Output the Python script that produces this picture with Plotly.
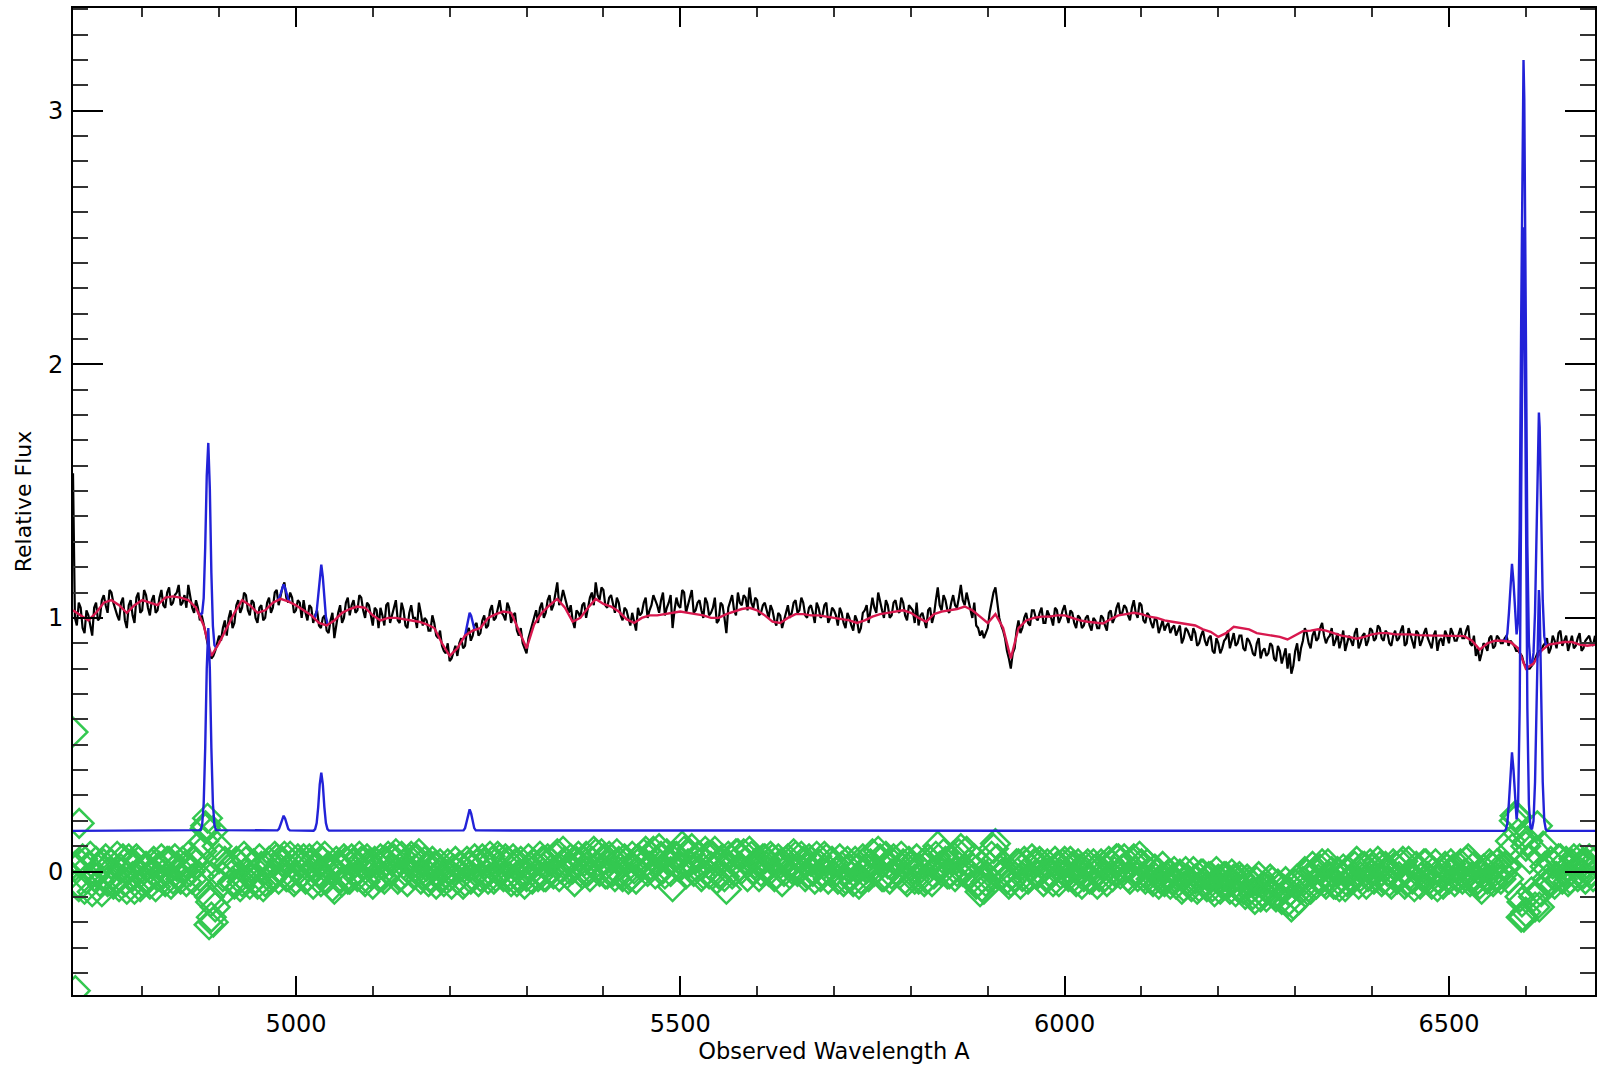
import numpy as np
import plotly.graph_objects as go

# ---------------- data ----------------
WL_START = 4710.0      # first wavelength sample (Angstrom)
SPEC_STEP = 5.0        # sampling of the main samples
MID_OFFSET = 2.5       # intermediate samples sit half-way between the main ones
MODEL_STEP = 10.0      # sampling of stellar model

# observed spectrum (black), main samples 4710..6690 every 5 A
black_flux = [
    1.57, 0.97, 1.04, 0.94, 1.01, 0.93, 1.06, 1.00, 1.09, 1.02, 1.10, 1.03, 0.99, 1.08, 0.96, 1.07, 0.98, 1.10, 1.03, 1.09,
    1.01, 1.09, 1.03, 1.11, 1.04, 1.12, 1.06, 1.10, 1.05, 1.09, 1.13, 1.04, 1.07, 0.99, 0.98, 0.90, 0.84, 0.87, 0.93, 0.96,
    0.93, 1.03, 0.98, 1.07, 1.04, 1.09, 1.01, 1.06, 0.98, 1.05, 1.00, 1.08, 1.04, 1.11, 1.09, 1.14, 1.06, 1.08, 1.03, 1.06,
    1.07, 0.99, 1.04, 1.01, 0.97, 1.00, 0.95, 0.99, 0.92, 1.02, 0.98, 1.06, 1.01, 1.07, 1.03, 1.08, 1.00, 1.05, 0.97, 1.03,
    1.04, 0.97, 1.06, 1.01, 1.07, 0.98, 1.03, 0.96, 1.05, 1.00, 1.06, 0.97, 0.99, 0.95, 0.98, 0.92, 0.89, 0.86, 0.83, 0.87,
    0.85, 0.92, 0.89, 0.96, 0.93, 0.98, 0.94, 1.01, 0.97, 1.05, 1.00, 1.07, 1.01, 1.06, 0.98, 1.02, 0.93, 0.90, 0.86, 0.95,
    1.01, 0.98, 1.06, 1.02, 1.09, 1.05, 1.14, 1.07, 1.08, 1.02, 0.99, 1.03, 1.00, 1.06, 1.04, 1.10, 1.14, 1.07, 1.11, 1.04,
    1.09, 1.02, 1.06, 0.99, 1.03, 0.97, 0.99, 1.04, 1.02, 1.08, 1.03, 1.09, 1.05, 1.07, 1.01, 1.06, 0.96, 1.08, 1.04, 1.10,
    1.05, 1.11, 1.03, 1.07, 1.00, 1.06, 1.02, 1.08, 0.99, 1.05, 0.94, 1.07, 1.03, 1.10, 1.05, 1.08, 1.12, 1.04, 1.07, 1.02,
    1.06, 1.00, 1.03, 0.97, 1.01, 0.99, 1.05, 1.02, 1.07, 1.03, 1.06, 1.00, 1.05, 0.98, 1.04, 1.01, 1.06, 1.00, 1.03, 0.97,
    1.02, 0.96, 1.00, 0.95, 0.99, 0.96, 1.03, 0.98, 1.08, 1.02, 1.06, 1.00, 1.05, 1.01, 1.07, 1.02, 1.06, 0.99, 1.04, 0.98,
    0.97, 1.02, 0.96, 1.04, 1.01, 1.12, 1.03, 1.07, 1.02, 1.09, 1.04, 1.13, 1.05, 1.07, 1.00, 0.97, 0.93, 0.92, 0.96, 1.06,
    1.12, 1.00, 0.95, 0.87, 0.80, 0.88, 0.99, 0.96, 1.02, 0.97, 1.03, 0.99, 1.04, 0.98, 1.01, 0.97, 1.03, 1.00, 1.05, 0.98,
    1.02, 0.96, 1.00, 0.97, 1.01, 0.95, 0.99, 0.96, 1.00, 0.95, 1.03, 1.00, 1.06, 1.02, 1.04, 0.99, 1.07, 1.00, 1.05, 0.98,
    1.01, 0.96, 0.99, 0.97, 0.95, 0.98, 0.96, 0.93, 0.97, 0.92, 0.95, 0.91, 0.94, 0.90, 0.95, 0.89, 0.93, 0.86, 0.90, 0.88,
    0.92, 0.88, 0.94, 0.90, 0.93, 0.87, 0.91, 0.86, 0.90, 0.84, 0.88, 0.86, 0.89, 0.83, 0.87, 0.85, 0.80, 0.78, 0.87, 0.83,
    0.91, 0.94, 0.88, 0.95, 0.92, 0.98, 0.90, 0.93, 0.89, 0.94, 0.91, 0.87, 0.93, 0.89, 0.96, 0.90, 0.94, 0.91, 0.95, 0.92,
    0.96, 0.91, 0.94, 0.89, 0.95, 0.92, 0.97, 0.90, 0.93, 0.88, 0.94, 0.91, 0.96, 0.90, 0.93, 0.87, 0.92, 0.95, 0.90, 0.94,
    0.91, 0.96, 0.92, 0.97, 0.89, 0.85, 0.83, 0.90, 0.87, 0.93, 0.89, 0.92, 0.90, 0.93, 0.91, 0.89, 0.87, 0.85, 0.81, 0.80,
    0.82, 0.86, 0.87, 0.90, 0.86, 0.93, 0.88, 0.95, 0.91, 0.87, 0.93, 0.89, 0.94, 0.88, 0.92, 0.90, 0.93,
]

# observed spectrum (black), intermediate samples 4712.5..6687.5 every 5 A
black_mid = [
    1.00, 1.06, 0.96, 1.03, 0.97, 1.04, 0.99, 1.07, 1.05, 1.11, 1.06, 1.01, 1.06, 0.99, 1.05, 1.01, 1.08, 1.02, 1.11, 1.04,
    1.07, 1.02, 1.08, 1.05, 1.10, 1.05, 1.09, 1.13, 1.06, 1.04, 1.08, 1.02, 1.04, 1.01, 0.94, 0.87, 0.85, 0.90, 0.91, 0.99,
    1.00, 0.96, 1.05, 1.02, 1.10, 1.03, 1.07, 1.00, 1.04, 0.99, 1.06, 1.02, 1.10, 1.05, 1.12, 1.08, 1.10, 1.02, 1.07, 1.00,
    1.02, 1.05, 0.98, 1.03, 0.96, 1.01, 0.94, 1.02, 0.97, 1.05, 1.00, 1.08, 1.05, 1.02, 1.09, 1.03, 1.06, 1.01, 1.04, 0.96,
    1.01, 1.05, 0.98, 1.04, 0.99, 1.06, 0.97, 1.02, 1.00, 0.96, 1.02, 1.00, 0.95, 1.01, 0.93, 0.95, 0.87, 0.90, 0.84, 0.89,
    0.90, 0.88, 0.95, 0.91, 0.97, 0.93, 0.99, 0.96, 1.03, 0.99, 1.04, 1.02, 0.99, 1.04, 1.01, 0.95, 0.96, 0.88, 0.92, 0.98,
    1.03, 1.04, 1.00, 1.07, 1.03, 1.10, 1.05, 1.11, 1.04, 1.05, 0.96, 1.02, 1.05, 1.00, 1.08, 1.05, 1.09, 1.12, 1.05, 1.08,
    1.05, 1.08, 1.01, 1.04, 1.00, 1.02, 0.95, 1.01, 1.06, 1.00, 1.05, 1.07, 1.02, 1.10, 1.04, 1.09, 1.03, 1.05, 1.11, 1.02,
    1.08, 1.02, 1.06, 1.03, 1.08, 1.01, 1.04, 0.98, 1.06, 1.00, 1.04, 1.09, 1.01, 1.06, 1.09, 1.03, 1.06, 1.08, 1.01, 1.05,
    1.03, 1.05, 0.99, 1.02, 0.96, 1.03, 1.00, 1.06, 1.02, 1.08, 1.01, 1.04, 1.02, 1.06, 1.00, 1.05, 0.98, 1.04, 1.01, 1.04,
    0.98, 1.02, 0.97, 1.01, 0.94, 1.02, 1.05, 1.03, 1.04, 1.10, 1.03, 1.07, 1.00, 1.06, 1.03, 1.08, 1.01, 1.05, 1.03, 1.06,
    1.01, 0.99, 1.03, 0.98, 1.07, 1.05, 1.09, 1.03, 1.06, 1.05, 1.08, 1.07, 1.10, 1.04, 1.06, 0.96, 0.95, 0.94, 1.02, 1.10,
    1.05, 0.97, 0.92, 0.84, 0.86, 0.95, 0.94, 1.00, 0.98, 1.03, 1.00, 1.02, 0.98, 1.03, 1.00, 1.04, 0.98, 1.03, 1.01, 1.03,
    0.98, 1.01, 0.96, 1.00, 0.97, 1.00, 0.96, 1.01, 0.97, 1.02, 0.98, 1.04, 1.01, 1.05, 1.01, 1.04, 1.02, 1.06, 0.99, 1.02,
    0.98, 1.00, 0.94, 0.99, 0.97, 0.94, 0.97, 0.95, 0.90, 0.96, 0.93, 0.96, 0.89, 0.93, 0.91, 0.92, 0.87, 0.92, 0.86, 0.91,
    0.95, 0.91, 0.89, 0.93, 0.88, 0.92, 0.89, 0.85, 0.92, 0.87, 0.85, 0.90, 0.84, 0.89, 0.82, 0.88, 0.86, 0.81, 0.90, 0.88,
    0.96, 0.90, 0.93, 0.91, 0.96, 0.93, 0.92, 0.96, 0.91, 0.88, 0.95, 0.90, 0.91, 0.94, 0.88, 0.93, 0.89, 0.96, 0.91, 0.97,
    0.92, 0.95, 0.90, 0.93, 0.91, 0.95, 0.89, 0.96, 0.91, 0.95, 0.89, 0.94, 0.92, 0.88, 0.95, 0.91, 0.89, 0.93, 0.96, 0.91,
    0.94, 0.92, 0.95, 0.90, 0.93, 0.88, 0.86, 0.89, 0.92, 0.88, 0.93, 0.90, 0.92, 0.89, 0.90, 0.87, 0.86, 0.82, 0.80, 0.81,
    0.84, 0.87, 0.89, 0.92, 0.88, 0.91, 0.94, 0.89, 0.93, 0.90, 0.88, 0.92, 0.87, 0.91, 0.93, 0.89,
]

# stellar model fit (red), 4710..6690 every 10 A
red_model = [
    1.03, 1.01, 0.99, 1.02, 1.06, 1.07, 1.05, 1.02, 1.05, 1.07,
    1.06, 1.05, 1.08, 1.085, 1.08, 1.07, 1.04, 0.97, 0.85, 0.90,
    0.96, 1.02, 1.07, 1.05, 1.02, 1.03, 1.06, 1.075, 1.065, 1.05,
    1.03, 1.01, 0.98, 0.97, 0.99, 1.02, 1.035, 1.045, 1.04, 1.01,
    0.99, 1.00, 1.00, 0.995, 0.99, 0.985, 0.975, 0.96, 0.90, 0.85,
    0.88, 0.93, 0.95, 0.96, 1.00, 1.015, 1.025, 1.02, 0.95, 0.88,
    0.975, 1.02, 1.05, 1.075, 1.04, 0.985, 1.00, 1.04, 1.075, 1.055,
    1.045, 1.025, 0.995, 0.98, 1.00, 1.01, 1.01, 1.015, 1.02, 1.025,
    1.02, 1.015, 1.01, 1.00, 1.00, 1.015, 1.025, 1.035, 1.04, 1.03,
    1.01, 0.985, 0.98, 1.00, 1.015, 1.015, 1.01, 1.01, 1.005, 1.00,
    0.995, 0.99, 0.98, 0.99, 1.005, 1.015, 1.02, 1.025, 1.03, 1.02,
    1.00, 0.985, 1.015, 1.025, 1.03, 1.035, 1.045, 1.03, 1.005, 0.98,
    1.015, 0.96, 0.84, 0.96, 0.99, 1.00, 1.005, 1.005, 1.01, 1.01,
    1.00, 0.99, 0.985, 0.98, 0.978, 0.995, 1.01, 1.015, 1.02, 1.015,
    1.005, 1.00, 0.99, 0.985, 0.98, 0.975, 0.97, 0.955, 0.945, 0.925,
    0.94, 0.965, 0.96, 0.955, 0.94, 0.935, 0.93, 0.925, 0.915, 0.93,
    0.948, 0.95, 0.955, 0.95, 0.94, 0.93, 0.925, 0.918, 0.925, 0.935,
    0.94, 0.94, 0.935, 0.935, 0.935, 0.932, 0.93, 0.93, 0.93, 0.93,
    0.93, 0.928, 0.91, 0.875, 0.90, 0.91, 0.91, 0.905, 0.88, 0.80,
    0.82, 0.87, 0.895, 0.90, 0.905, 0.905, 0.895, 0.89, 0.895,
]

# residuals (green diamonds), main samples 4710..6690 every 5 A
resid = [
    0.55, -0.05, 0.03, -0.07, 0.02, -0.08, 0.04, -0.04, 0.03, -0.04, 0.03, -0.03, -0.06, 0.05, -0.07, 0.03, -0.07, 0.04, -0.04, 0.02,
    -0.05, 0.04, -0.02, 0.05, -0.04, 0.04, -0.03, 0.02, -0.03, 0.02, 0.06, -0.03, 0.03, -0.02, 0.12, 0.21, -0.18, -0.14, 0.05, -0.02,
    -0.07, 0.02, -0.05, 0.03, -0.04, 0.04, -0.05, 0.03, -0.05, 0.02, -0.04, 0.04, -0.02, 0.05, 0.01, 0.06, -0.02, 0.03, -0.03, 0.03,
    0.05, -0.02, 0.03, 0.02, -0.01, 0.04, -0.03, 0.01, -0.07, 0.02, -0.04, 0.04, -0.03, 0.03, -0.02, 0.04, -0.04, 0.03, -0.05, 0.03,
    0.05, -0.03, 0.06, 0.01, 0.07, -0.02, 0.03, -0.04, 0.06, 0.01, 0.07, -0.01, 0.02, -0.02, 0.02, -0.01, -0.02, -0.01, -0.02, 0.01,
    -0.03, 0.02, -0.04, 0.02, -0.02, 0.03, -0.02, 0.03, -0.03, 0.04, -0.02, 0.05, -0.02, 0.04, -0.04, 0.03, -0.02, -0.01, -0.02, 0.02,
    0.03, -0.02, 0.04, -0.02, 0.04, -0.01, 0.07, 0.01, 0.04, 0.01, 0.01, 0.04, 0.00, 0.04, 0.00, 0.04, 0.07, 0.00, 0.05, -0.01,
    0.05, -0.02, 0.04, -0.02, 0.04, -0.02, 0.01, 0.05, 0.02, 0.08, 0.02, 0.08, 0.04, 0.06, -0.01, 0.04, -0.06, 0.06, 0.02, 0.08,
    0.03, 0.09, 0.02, 0.06, -0.01, 0.06, 0.02, 0.08, -0.01, 0.05, -0.07, 0.05, 0.00, 0.07, 0.01, 0.04, 0.08, 0.01, 0.04, 0.00,
    0.05, 0.00, 0.05, -0.01, 0.03, 0.00, 0.05, 0.01, 0.06, 0.01, 0.04, -0.01, 0.04, -0.03, 0.03, 0.00, 0.05, 0.00, 0.03, -0.03,
    0.02, -0.03, 0.01, -0.04, 0.01, -0.03, 0.04, -0.02, 0.07, 0.01, 0.05, -0.02, 0.03, -0.01, 0.04, -0.01, 0.03, -0.04, 0.02, -0.03,
    -0.03, 0.03, -0.03, 0.04, -0.01, 0.10, 0.00, 0.04, -0.01, 0.06, 0.00, 0.09, 0.01, 0.03, -0.03, -0.05, -0.08, -0.07, -0.02, 0.06,
    0.11, 0.01, -0.01, -0.03, -0.04, -0.02, 0.03, -0.02, 0.03, -0.02, 0.03, -0.01, 0.03, -0.02, 0.00, -0.04, 0.02, -0.01, 0.04, -0.02,
    0.02, -0.04, 0.01, -0.02, 0.03, -0.03, 0.01, -0.02, 0.02, -0.04, 0.03, 0.00, 0.05, 0.01, 0.02, -0.03, 0.05, -0.02, 0.03, -0.03,
    0.00, -0.04, -0.01, -0.03, -0.04, -0.01, -0.03, -0.05, -0.01, -0.06, -0.03, -0.06, -0.03, -0.06, -0.01, -0.06, -0.02, -0.08, -0.03, -0.05,
    -0.02, -0.07, -0.03, -0.06, -0.03, -0.09, -0.04, -0.09, -0.04, -0.10, -0.06, -0.07, -0.04, -0.10, -0.06, -0.07, -0.12, -0.14, -0.05, -0.11,
    -0.04, -0.01, -0.07, 0.00, -0.03, 0.03, -0.05, -0.02, -0.05, 0.00, -0.02, -0.06, 0.00, -0.03, 0.04, -0.02, 0.02, -0.02, 0.01, -0.02,
    0.02, -0.03, 0.00, -0.05, 0.02, -0.02, 0.04, -0.04, -0.01, -0.06, 0.01, -0.02, 0.03, -0.03, 0.00, -0.06, -0.01, 0.02, -0.03, 0.01,
    -0.02, 0.03, -0.01, 0.05, -0.02, -0.04, -0.05, 0.01, -0.03, 0.02, -0.02, 0.01, -0.01, 0.02, 0.12, 0.20, 0.15, -0.12, -0.16, 0.05,
    -0.10, 0.18, -0.08, 0.02, -0.04, 0.03, -0.02, 0.05, 0.00, -0.04, 0.03, -0.01, 0.05, -0.01, 0.03, 0.00, 0.04,
]

# residuals, intermediate samples 4712.5..6687.5 every 5 A
resid_mid = [
    0.02, -0.06, 0.05, -0.03, 0.06, -0.02, 0.01, -0.08, 0.05, 0.00, -0.05, 0.06, 0.01, -0.04, 0.05, -0.02, 0.05, -0.06, 0.01, -0.03,
    0.03, -0.06, 0.02, -0.01, 0.04, -0.05, 0.05, -0.01, 0.04, -0.04, 0.00, 0.04, -0.05, 0.08, 0.18, -0.10, -0.20, 0.10, -0.05, 0.04,
    0.03, -0.04, 0.04, -0.06, 0.06, -0.01, 0.02, -0.03, 0.05, -0.06, 0.02, -0.03, 0.06, -0.03, 0.04, -0.02, 0.06, -0.04, 0.05, -0.01,
    -0.03, 0.05, -0.05, 0.06, -0.04, 0.06, 0.02, -0.06, 0.04, -0.02, 0.05, -0.03, 0.05, 0.00, 0.06, -0.03, 0.05, -0.01, 0.04, -0.02,
    -0.02, 0.04, 0.00, 0.05, -0.03, 0.06, 0.00, 0.05, -0.01, 0.05, -0.03, 0.04, -0.04, 0.04, -0.05, 0.03, -0.04, 0.03, -0.05, 0.04,
    0.02, -0.05, 0.04, -0.03, 0.05, -0.04, 0.05, -0.01, 0.06, -0.03, 0.06, 0.00, 0.05, -0.02, 0.05, -0.04, 0.04, -0.05, 0.05, -0.03,
    -0.01, 0.06, -0.02, 0.05, 0.01, 0.06, -0.02, 0.08, -0.01, 0.05, -0.04, 0.06, -0.01, 0.06, -0.02, 0.08, 0.02, 0.07, -0.01, 0.06,
    0.00, 0.07, -0.01, 0.05, -0.03, 0.06, -0.03, 0.04, 0.07, 0.00, 0.06, -0.01, 0.09, 0.01, 0.07, 0.00, 0.06, 0.02, 0.10, -0.01,
    0.07, 0.00, 0.06, -0.02, 0.08, -0.01, 0.06, -0.03, 0.04, -0.02, 0.06, -0.01, 0.07, 0.02, 0.07, -0.02, 0.06, 0.03, -0.02, 0.05,
    0.02, 0.06, -0.02, 0.05, -0.04, 0.04, -0.01, 0.07, 0.00, 0.06, -0.02, 0.05, 0.00, 0.06, -0.02, 0.06, -0.03, 0.04, 0.00, 0.05,
    -0.04, 0.04, -0.02, 0.04, -0.05, 0.05, 0.01, 0.03, 0.00, 0.08, -0.02, 0.06, -0.03, 0.05, 0.00, 0.06, -0.03, 0.04, 0.01, 0.05,
    0.01, -0.04, 0.05, -0.04, 0.06, 0.02, 0.07, -0.01, 0.05, -0.02, 0.07, 0.00, 0.08, -0.01, 0.05, -0.04, -0.06, -0.04, 0.02, 0.09,
    0.05, -0.01, 0.00, -0.05, -0.01, 0.03, -0.05, 0.04, -0.03, 0.05, -0.01, 0.04, -0.04, 0.03, -0.01, 0.04, -0.04, 0.03, -0.01, 0.04,
    -0.02, 0.03, -0.05, 0.02, -0.03, 0.03, -0.05, 0.03, -0.02, 0.04, -0.02, 0.05, -0.01, 0.05, -0.02, 0.04, 0.00, 0.06, -0.02, 0.03,
    -0.03, 0.01, -0.05, 0.02, -0.02, -0.05, 0.00, -0.02, -0.07, 0.00, -0.04, 0.00, -0.07, -0.01, -0.05, -0.02, -0.06, 0.00, -0.07, -0.02,
    -0.05, -0.01, -0.08, -0.02, -0.07, -0.03, -0.07, -0.11, -0.02, -0.08, -0.10, -0.03, -0.09, -0.05, -0.11, -0.04, -0.08, -0.13, -0.03, -0.07,
    0.00, -0.06, 0.02, -0.05, 0.01, -0.04, 0.03, 0.00, -0.05, -0.06, 0.01, -0.04, -0.03, 0.02, -0.05, 0.02, -0.05, 0.03, -0.03, 0.04,
    -0.04, 0.02, -0.04, 0.03, -0.03, 0.03, -0.05, 0.04, -0.03, 0.02, -0.05, 0.03, -0.02, -0.05, 0.03, -0.03, -0.05, 0.01, 0.03, -0.04,
    0.02, -0.03, 0.04, -0.04, 0.02, -0.03, -0.07, -0.02, 0.03, -0.04, 0.03, -0.03, 0.02, -0.03, 0.09, 0.22, -0.10, -0.18, 0.12, -0.08,
    0.08, -0.14, 0.10, -0.03, 0.04, -0.05, 0.05, -0.03, 0.04, -0.03, 0.05, -0.02, 0.03, -0.03, 0.05, -0.02,
]

# a few extra residual outliers (edge and line centres)
extra_resid_wl = [4713, 4718, 4882, 4887, 4889, 4892, 6586, 6594, 6600, 6612]
extra_resid = [-0.47, 0.19, 0.17, -0.21, -0.12, 0.16, 0.22, -0.18, 0.10, -0.14]

# emission-line-only model (blue, offset baseline)
em_wl = [4710,
         4876, 4878, 4880, 4882, 4884, 4886, 4888, 4890, 4892, 4894, 4896,
         4976, 4978, 4980, 4982, 4984, 4986, 4988, 4990, 4992,
         5023, 5025, 5027, 5029, 5031, 5033, 5035, 5037, 5039, 5041, 5043,
         5218, 5220, 5222, 5224, 5226, 5228, 5230, 5232, 5234,
         6572, 6574, 6576, 6578, 6580, 6582, 6584, 6586, 6588, 6590, 6592, 6594, 6596, 6597, 6598,
         6600, 6602, 6604, 6606, 6608, 6610, 6612, 6614, 6616, 6617, 6618, 6620, 6622, 6624, 6626, 6628,
         6690]
em_flux = [0.16,
           0.163, 0.183, 0.268, 0.488, 0.80, 0.96, 0.80, 0.488, 0.268, 0.183, 0.163,
           0.162, 0.168, 0.185, 0.208, 0.22, 0.208, 0.185, 0.168, 0.162,
           0.161, 0.167, 0.191, 0.254, 0.344, 0.39, 0.344, 0.254, 0.191, 0.167, 0.161,
           0.162, 0.171, 0.195, 0.228, 0.245, 0.228, 0.195, 0.171, 0.162,
           0.16, 0.165, 0.191, 0.272, 0.40, 0.47, 0.40, 0.272, 0.205, 0.27, 0.643, 1.50, 2.39, 2.54, 2.39,
           1.50, 0.643, 0.265, 0.175, 0.166, 0.20, 0.353, 0.695, 1.05, 1.11, 1.05, 0.695, 0.353, 0.20, 0.166, 0.16,
           0.16]

# stellar + emission model (blue) around the lines; None separates segments
tot_wl = [4874, 4876, 4878, 4880, 4882, 4884, 4886, 4888, 4890, 4892, 4894, 4896, 4898, None,
          4976, 4978, 4980, 4982, 4984, 4986, 4988, 4990, 4992, None,
          5023, 5025, 5027, 5029, 5031, 5033, 5035, 5037, 5039, 5041, 5043, None,
          5218, 5220, 5222, 5224, 5226, 5228, 5230, 5232, 5234, None,
          6568, 6572, 6574, 6576, 6578, 6580, 6582, 6584, 6586, 6588, 6590, 6592, 6594, 6596, 6597, 6598,
          6600, 6602, 6604, 6606, 6608, 6610, 6612, 6614, 6616, 6617, 6618, 6620, 6622, 6624, 6626, 6628, 6632]
tot_flux = [1.02, 1.013, 1.018, 1.078, 1.278, 1.56, 1.69, 1.51, 1.178, 0.968, 0.893, 0.883, 0.89, None,
            1.07, 1.078, 1.095, 1.118, 1.132, 1.117, 1.093, 1.074, 1.065, None,
            1.006, 1.003, 1.026, 1.084, 1.169, 1.21, 1.161, 1.069, 1.004, 0.979, 0.973, None,
            0.917, 0.931, 0.96, 0.998, 1.02, 1.008, 0.98, 0.958, 0.952, None,
            0.91, 0.91, 0.914, 0.939, 1.019, 1.145, 1.213, 1.14, 1.007, 0.935, 0.99, 1.353, 2.19, 3.06, 3.20, 3.047,
            2.14, 1.283, 0.905, 0.82, 0.816, 0.862, 1.023, 1.377, 1.746, 1.81, 1.754, 1.405, 1.07, 0.927, 0.895, 0.893, 0.898]

x_ticks = [5000, 5500, 6000, 6500]
y_ticks = [0, 1, 2, 3]
x_title = "Observed Wavelength A"
y_title = "Relative Flux"

# ---------------- assemble samples in wavelength order ----------------
main_wl = WL_START + SPEC_STEP * np.arange(len(black_flux))
mid_wl = WL_START + MID_OFFSET + SPEC_STEP * np.arange(len(black_mid))
spec_wl, spec_flux, res_val = [], [], []
for i in range(len(black_flux)):
    spec_wl.append(main_wl[i]); spec_flux.append(black_flux[i]); res_val.append(resid[i])
    if i < len(black_mid):
        spec_wl.append(mid_wl[i]); spec_flux.append(black_mid[i]); res_val.append(resid_mid[i])
model_wl = WL_START + MODEL_STEP * np.arange(len(red_model))

BLACK = "#000000"
RED = "#D8184E"
BLUE = "#2222D8"
GREEN = "#33C850"

fig = go.Figure()
fig.add_trace(go.Scatter(x=spec_wl, y=spec_flux, mode="lines",
                         line=dict(color=BLACK, width=2.2), name="data"))
fig.add_trace(go.Scatter(x=tot_wl, y=tot_flux, mode="lines", connectgaps=False,
                         line=dict(color=BLUE, width=2.4), name="model+emission"))
fig.add_trace(go.Scatter(x=model_wl, y=red_model, mode="lines",
                         line=dict(color=RED, width=2.4), name="stellar model"))
fig.add_trace(go.Scatter(x=spec_wl + extra_resid_wl, y=res_val + extra_resid, mode="markers",
                         marker=dict(symbol="diamond-open", size=22, color=GREEN,
                                     line=dict(color=GREEN, width=2.5)), name="residuals"))
fig.add_trace(go.Scatter(x=em_wl, y=em_flux, mode="lines",
                         line=dict(color=BLUE, width=2.4), name="emission"))

font_family = "DejaVu Sans, Verdana, sans-serif"
fig.update_layout(
    width=1601, height=1066,
    margin=dict(l=73, r=6, t=8, b=71, autoexpand=False),
    paper_bgcolor="white", plot_bgcolor="white",
    showlegend=False,
    font=dict(family=font_family, color="black", size=24),
)
fig.update_xaxes(
    range=[4710, 6690], tickvals=x_ticks, ticks="inside", ticklen=19, tickwidth=2,
    tickcolor="black", showline=True, linecolor="black", linewidth=2, mirror="ticks",
    showgrid=False, zeroline=False, tickfont=dict(size=24), ticklabelstandoff=6,
    minor=dict(dtick=100, ticks="inside", ticklen=9, tickwidth=2, tickcolor="#333333", showgrid=False),
    title=dict(text=x_title, font=dict(size=22.5), standoff=2),
)
fig.update_yaxes(
    range=[-0.487, 3.405], tickvals=y_ticks, ticks="inside", ticklen=30, tickwidth=2,
    tickcolor="black", showline=True, linecolor="black", linewidth=2, mirror="ticks",
    showgrid=False, zeroline=False, tickfont=dict(size=24), ticklabelstandoff=3,
    minor=dict(dtick=0.1, ticks="inside", ticklen=15, tickwidth=2, tickcolor="#333333", showgrid=False),
    title=dict(text=y_title, font=dict(size=22), standoff=10),
)

fig.write_html("out.html")
